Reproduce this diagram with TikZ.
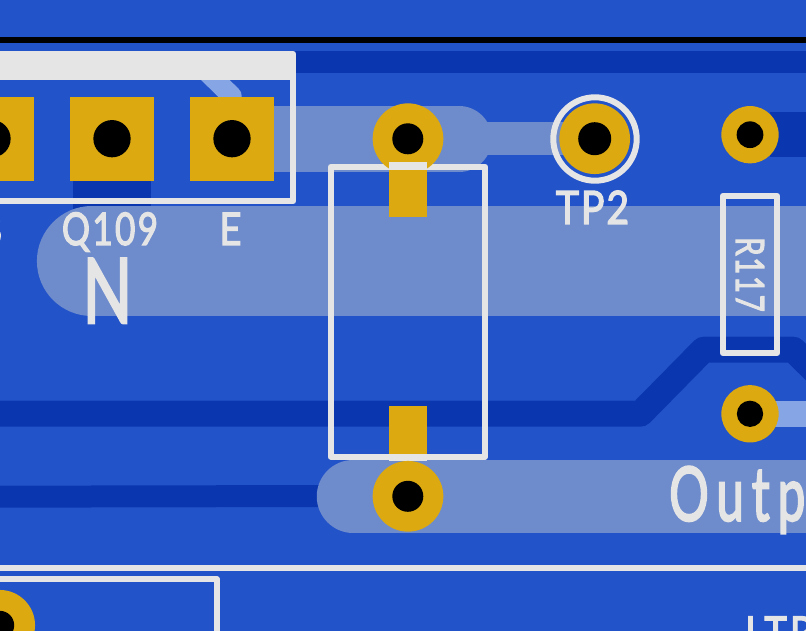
\documentclass[tikz,border=0pt]{standalone}
\usepackage{fontspec}
\setmainfont{Lato}[FakeBold=3]
\definecolor{bgblue}{HTML}{2353C9}
\definecolor{darkcu}{HTML}{0A37B0}
\definecolor{silk}{HTML}{E5E5E5}
\definecolor{padc}{HTML}{DCA911}
\definecolor{lighttr}{HTML}{6E8CCB}
\definecolor{palecu}{HTML}{85A5E5}
\tikzset{
  silkline/.style={draw=silk,line width=6pt,line join=round},
  darktrack/.style={draw=darkcu,line join=round},
  lighttrack/.style={draw=lighttr,line cap=round},
  palepath/.style={draw=palecu,line join=round},
  roundpad/.style={circle,fill=padc,inner sep=0pt,minimum size=#1},
  squarepad/.style={rectangle,fill=padc,inner sep=0pt,minimum size=84pt},
  drill/.style={circle,fill=black,inner sep=0pt,minimum size=#1},
  smdpad/.style={rectangle,fill=padc,inner sep=0pt,minimum width=38pt,minimum height=55pt},
  silktext/.style={text=silk,inner sep=0pt,font=\fontsize{#1}{#1}\selectfont}
}
\begin{document}
\begin{tikzpicture}[x=1pt,y=-1pt]
\useasboundingbox (0,0) rectangle (806,631);
\fill[bgblue] (0,0) rectangle (806,631);
\fill[black] (0,37) rectangle (806,43);
% dark copper
\draw[darktrack,line width=22pt] (280,61.7) -- (806,61.7);
\fill[darkcu] (73.3,170) rectangle (150.7,230);
\draw[darktrack,line width=26pt] (-10,413.7) -- (640.5,413.7) -- (703.5,349.7) -- (793.5,349.7) -- (830,386);
\draw[darktrack,line width=22pt] (-10,496.7) -- (340,496);
\fill[darkcu] (770,112.3) rectangle (806,156.7);
% light copper
\draw[lighttrack,line width=65.7pt] (232,138.8) -- (459,138.8);
\fill[lighttr] (459,122.3) rectangle (595,155);
\draw[lighttrack,line width=109.6pt] (91.7,261.3) -- (900,261.3);
\draw[lighttrack,line width=72.5pt] (353,496.3) -- (900,496.3);
\draw[palepath,line width=20pt] (195,60) -- (231.7,96) -- (231.7,139);
\fill[palecu] (760,401) rectangle (806,427);
% silkscreen lines
\draw[silkline] (-10,54) -- (293.3,54) -- (293.3,201.3) -- (-10,201.3);
\fill[silk] (0,51) rectangle (293.3,79.7);
\draw[silkline] (330.7,166.7) rectangle (485,456.7);
\draw[silkline] (722.7,196) rectangle (777.3,353);
\draw[silkline] (-10,567.7) -- (816,567.7);
\draw[silkline] (-10,579) -- (216.7,579) -- (216.7,640);
% pads
\node[squarepad] (p1) at (-8,139) {};
\node[squarepad] (p2) at (112,139) {};
\node[squarepad] (p3) at (232,139) {};
\node[drill=37.3pt] (d1) at (-8,138.7) {};
\node[drill=37.3pt] (d2) at (112,138.7) {};
\node[drill=37.3pt] (d3) at (232,138.7) {};
\node[roundpad=70.7pt] (r1) at (408,138.7) {};
\node[drill=31pt] (rd1) at (407.8,138.8) {};
\node[smdpad] (s1) at (408,189.2) {};
\fill[silk] (389,162) rectangle (427,169.7);
\node[smdpad] (s2) at (408,433.5) {};
\fill[silk] (389,453.7) rectangle (427,461);
\node[roundpad=70.7pt] (r2) at (408,496.3) {};
\node[drill=31pt] (rd2) at (407.8,496.3) {};
\node[roundpad=70.7pt] (tp) at (594.7,138.7) {};
\node[drill=33pt] (tpd) at (594.7,138.7) {};
\draw[draw=silk,line width=6pt] (595,139) circle (41.7pt);
\node[roundpad=57.3pt] (r3) at (750,134.7) {};
\node[drill=26.7pt] (r3d) at (750,134.7) {};
\node[roundpad=57.3pt] (r4) at (750,413.8) {};
\node[drill=26.3pt] (r4d) at (750,413.8) {};
\node[roundpad=70.7pt] (r5) at (-0.3,625.3) {};
\node[drill=29pt] (r5d) at (-0.3,625.3) {};
% text
\node[silktext=45,anchor=base] (t1) at (110,245) {\scalebox{.78}[1]{\addfontfeature{LetterSpace=6.6}Q109}};
\node[silktext=45,anchor=base] (t2) at (230.4,245) {\scalebox{.85}[1]{E}};
\node[silktext=46,anchor=base] (t3) at (592.5,224) {\scalebox{.85}[1]{\addfontfeature{LetterSpace=5}TP2}};
\node[silktext=90,anchor=base] (t4) at (107.5,323) {\scalebox{.72}[1]{N}};
\node[silktext=39,anchor=base,rotate=-90] (t5) at (736,274.5) {\scalebox{.75}[1]{\addfontfeature{LetterSpace=6}R117}};
\node[silktext=75,anchor=base west] (t6) at (669,520.7) {\scalebox{.66}[1]{\addfontfeature{LetterSpace=16}Outp}};
\node[silktext=45,anchor=base west] (t7) at (745,648.7) {\scalebox{.85}[1]{\addfontfeature{LetterSpace=8}LTR}};
\node[silktext=45,anchor=base east] (t8) at (2.5,245) {\scalebox{.85}[1]{B}};
\end{tikzpicture}
\end{document}
